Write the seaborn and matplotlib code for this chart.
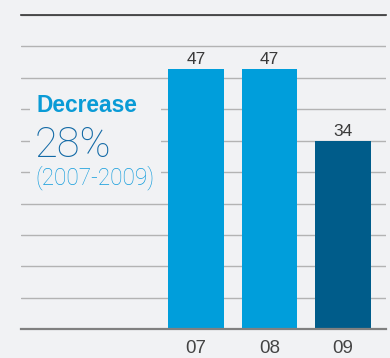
import matplotlib
matplotlib.use("Agg")
import matplotlib.pyplot as plt
import seaborn as sns
import numpy as np
import pandas as pd
from matplotlib.patches import Rectangle

years = ["07", "08", "09"]
values = [47, 47, 34]
bar_colors = ["#009edb", "#009edb", "#005c8a"]

BG = "#f1f2f4"
sns.set_theme(style="white")
plt.rcParams["font.family"] = ["Liberation Sans", "DejaVu Sans"]

fig = plt.figure(figsize=(3.9, 3.58), dpi=100, facecolor=BG)
ax = fig.add_axes([20.7 / 390, 1 - 329.3 / 358, (386 - 20.7) / 390, (329.3 - 15) / 358])
ax.set_facecolor(BG)

df = pd.DataFrame({"year": years, "value": values})
sns.barplot(data=df, x="year", y="value", hue="year", palette=bar_colors,
            width=0.76, legend=False, ax=ax, saturation=1, zorder=2, linewidth=0)

ymax = 56.7
ax.set_ylim(0, ymax)
ax.set_xlim(-2.385, 2.585)
ax.set_yticks(np.linspace(0, ymax, 11))
ax.yaxis.grid(True, color="#b3b3b3", linewidth=1.0)
ax.set_axisbelow(True)
ax.tick_params(axis="y", left=False, labelleft=False)
ax.tick_params(axis="x", bottom=False, labelsize=13.5, labelcolor="#444444", pad=1.5)
ax.set_xlabel("")
ax.set_ylabel("")
for s in ["left", "right"]:
    ax.spines[s].set_visible(False)
ax.spines["top"].set_color("#333333")
ax.spines["top"].set_linewidth(1.2)
ax.spines["bottom"].set_color("#808080")
ax.spines["bottom"].set_linewidth(1.6)

for i, v in enumerate(values):
    ax.text(i, v + 0.8, str(v), ha="center", va="baseline", fontsize=12.5, color="#3a3a3a")

# background box hiding gridlines behind the annotation
fig.patches.append(Rectangle((30 / 390, 1 - 192 / 358), (161 - 30) / 390, (192 - 92) / 358,
                             transform=fig.transFigure, facecolor=BG, edgecolor="none", zorder=1))

fig.text(36 / 390, 1 - 112 / 358, "Decrease", fontsize=16.4, fontweight="bold",
         color="#0a9bd6", ha="left", va="baseline", zorder=3)
fig.text(35 / 390, 1 - 157 / 358, "28%", fontsize=30, color="#136aa6",
         family=["Roboto", "Liberation Sans"], fontweight="light",
         ha="left", va="baseline", zorder=3)
fig.text(35 / 390, 1 - 184 / 358, "(2007-2009)", fontsize=16.3, color="#119cdc",
         family=["Roboto", "Liberation Sans"], fontweight="light",
         ha="left", va="baseline", zorder=3)

fig.savefig("out.png", dpi=100, facecolor=BG)
